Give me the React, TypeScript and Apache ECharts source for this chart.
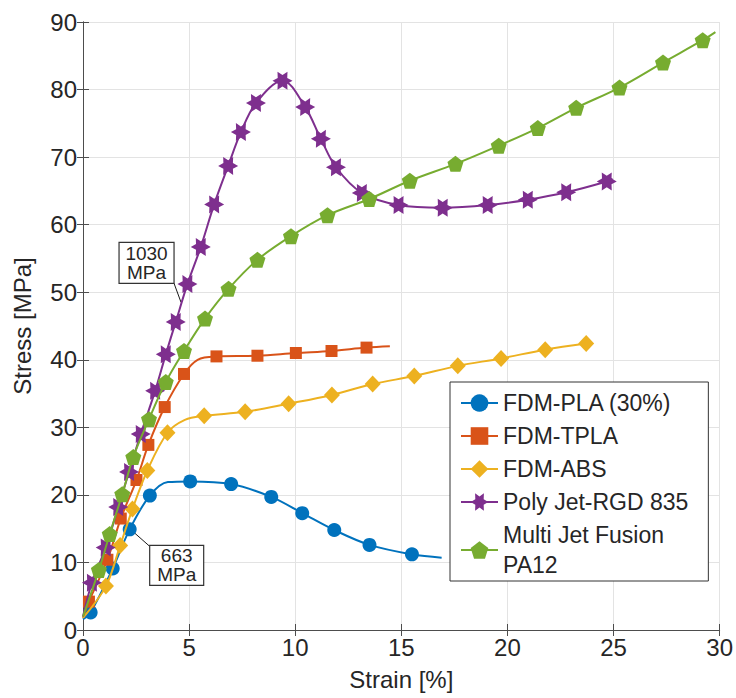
import React, { useEffect, useRef } from "react";
import * as echarts from "echarts";

// ---- Data ----
const xTicks = [0, 5, 10, 15, 20, 25, 30];
const yTicks = [0, 10, 20, 30, 40, 50, 60, 70, 80, 90];

const seriesNames = [
  "FDM-PLA (30%)",
  "FDM-TPLA",
  "FDM-ABS",
  "Poly Jet-RGD 835",
  "Multi Jet Fusion\nPA12",
];

// FDM-PLA (30%)
const plaMarkX = [0.36, 1.4, 2.2, 3.15, 5.05, 6.98, 8.87, 10.33, 11.84, 13.5, 15.5];
const plaMarkY = [2.6, 9.1, 14.9, 19.9, 22.0, 21.6, 19.7, 17.3, 14.8, 12.6, 11.2];
const plaCurveX = [0, 4.0, 16.9];
const plaCurveY = [1.6, 21.9, 10.7];

// FDM-TPLA
const tplaMarkX = [0.28, 1.15, 1.78, 2.52, 3.08, 3.85, 4.76, 6.29, 8.22, 10.03, 11.71, 13.36];
const tplaMarkY = [4.2, 10.4, 16.5, 22.2, 27.4, 33.0, 37.9, 40.5, 40.6, 41.0, 41.3, 41.8];
const tplaCurveX = [0, 5.4, 14.46];
const tplaCurveY = [1.8, 40.0, 42.0];

// FDM-ABS
const absMarkX = [1.08, 1.75, 2.33, 3.03, 3.98, 5.71, 7.64, 9.69, 11.73, 13.65, 15.61, 17.66, 19.7, 21.78, 23.71];
const absMarkY = [6.5, 12.5, 17.9, 23.6, 29.2, 31.7, 32.3, 33.5, 34.8, 36.4, 37.6, 39.1, 40.2, 41.5, 42.4];
const absCurveX = [0, 4.8];
const absCurveY = [1.8, 31.1];

// Poly Jet-RGD 835
const pjMarkX = [0.42, 1.07, 1.66, 2.17, 2.72, 3.4, 3.9, 4.37, 4.92, 5.55, 6.18, 6.84, 7.44, 8.15, 9.4, 10.47, 11.21, 11.92, 13.14, 14.87, 16.95, 19.07, 20.96, 22.77, 24.68];
const pjMarkY = [7.0, 12.2, 18.2, 23.4, 29.0, 35.4, 40.8, 45.6, 51.2, 56.7, 63.0, 68.7, 73.7, 78.0, 81.3, 77.4, 72.7, 68.5, 64.7, 62.9, 62.5, 62.9, 63.7, 64.8, 66.4];
const pjCurveX = [0, 24.95];
const pjCurveY = [2.0, 66.8];

// Multi Jet Fusion PA12
const mjfMarkX = [0.75, 1.26, 1.85, 2.37, 3.11, 3.9, 4.76, 5.75, 6.86, 8.22, 9.8, 11.52, 13.49, 15.4, 17.55, 19.59, 21.43, 23.24, 25.28, 27.33, 29.2];
const mjfMarkY = [8.9, 14.2, 20.1, 25.6, 31.2, 36.7, 41.3, 46.1, 50.5, 54.8, 58.3, 61.4, 63.8, 66.5, 69.0, 71.7, 74.3, 77.3, 80.3, 84.0, 87.3];
const mjfCurveX = [0, 29.8];
const mjfCurveY = [2.0, 88.5];

// Annotations (modulus labels)
const annotTexts = ["1030\nMPa", "663\nMPa"];
const annotAnchorX = [4.62, 2.2];
const annotAnchorY = [48.5, 14.9];

const colors = ["#0072BD", "#D95319", "#EDB120", "#7E2F8E", "#77AC30"];

function starPath(): string {
  const pts: string[] = [];
  for (let k = 0; k < 12; k++) {
    const a = (k * Math.PI) / 6;
    const r = k % 2 === 0 ? 1 : 0.55;
    pts.push((r * Math.cos(a)).toFixed(3) + "," + (-r * Math.sin(a)).toFixed(3));
  }
  return "path://M" + pts.join("L") + "Z";
}
const pentagonPath = "path://M0,-1L0.951,-0.309L0.588,0.809L-0.588,0.809L-0.951,-0.309Z";

function buildData(mx: number[], my: number[], cx: number[], cy: number[]) {
  const pts: any[] = mx.map((x, i) => ({ value: [x, my[i]] }));
  cx.forEach((x, i) => pts.push({ value: [x, cy[i]], symbol: "none" }));
  pts.sort((a, b) => a.value[0] - b.value[0]);
  return pts;
}

const FONT = "'Liberation Sans', Arial, Helvetica, sans-serif";
const TXT = "#262626";

export default function App() {
  const ref = useRef<HTMLDivElement>(null);
  useEffect(() => {
    if (!ref.current) return;
    const chart = echarts.init(ref.current, undefined, { renderer: "svg" });
    const defs = [
      { d: buildData(plaMarkX, plaMarkY, plaCurveX, plaCurveY), symbol: "circle", size: 14 },
      { d: buildData(tplaMarkX, tplaMarkY, tplaCurveX, tplaCurveY), symbol: "rect", size: 12 },
      { d: buildData(absMarkX, absMarkY, absCurveX, absCurveY), symbol: "diamond", size: [16, 17] },
      { d: buildData(pjMarkX, pjMarkY, pjCurveX, pjCurveY), symbol: starPath(), size: [20, 18] },
      { d: buildData(mjfMarkX, mjfMarkY, mjfCurveX, mjfCurveY), symbol: pentagonPath, size: 16 },
    ];
    const series = defs.map((s, i) => ({
      name: seriesNames[i],
      type: "line",
      xAxisIndex: 0,
      yAxisIndex: 0,
      data: s.d,
      smooth: 0.35,
      symbol: s.symbol,
      symbolSize: s.size,
      showSymbol: true,
      lineStyle: { color: colors[i], width: 2 },
      itemStyle: { color: colors[i], borderWidth: 0 },
      z: 2 + i,
    }));
    const axisCommon = {
      type: "value",
      axisLine: { show: true, lineStyle: { color: "#4d4d4d", width: 1 } },
      axisTick: { show: true, inside: true, length: 6, lineStyle: { color: "#4d4d4d" } },
    };
    chart.setOption({
      animation: false,
      color: colors,
      grid: { left: 83, top: 22, right: 16, bottom: 68, containLabel: false },
      xAxis: [
        {
          ...axisCommon,
          min: 0,
          max: 30,
          interval: 5,
          name: "Strain [%]",
          nameLocation: "middle",
          nameGap: 37,
          nameTextStyle: { fontSize: 24, color: TXT, fontFamily: FONT },
          axisLabel: { fontSize: 24, color: TXT, fontFamily: FONT, margin: 5,
            formatter: (v: number) => (xTicks.includes(v) ? String(v) : "") },
          splitLine: { show: true, lineStyle: { color: "#e3e3e3", width: 1 } },
        },
        {
          ...axisCommon,
          position: "top",
          min: 0,
          max: 30,
          interval: 5,
          axisLabel: { show: false },
          splitLine: { show: false },
        },
      ],
      yAxis: [
        {
          ...axisCommon,
          min: 0,
          max: 90,
          interval: 10,
          name: "Stress [MPa]",
          nameLocation: "middle",
          nameGap: 49,
          nameTextStyle: { fontSize: 24, color: TXT, fontFamily: FONT },
          axisLabel: { fontSize: 24, color: TXT, fontFamily: FONT, margin: 6,
            formatter: (v: number) => (yTicks.includes(v) ? String(v) : "") },
          splitLine: { show: true, lineStyle: { color: "#e3e3e3", width: 1 } },
        },
        {
          ...axisCommon,
          position: "right",
          min: 0,
          max: 90,
          interval: 10,
          axisLabel: { show: false },
          splitLine: { show: false },
        },
      ],
      legend: {
        orient: "vertical",
        left: 450,
        top: 382,
        padding: [6, 20, 1, 10],
        itemGap: 3,
        itemWidth: 37,
        itemHeight: 22,
        backgroundColor: "#ffffff",
        borderColor: "#333333",
        borderWidth: 1,
        textStyle: { fontSize: 23, color: TXT, fontFamily: FONT, lineHeight: 30 },
        data: seriesNames,
      },
      series,
    });

    const p1 = chart.convertToPixel({ xAxisIndex: 0, yAxisIndex: 0 }, [annotAnchorX[0], annotAnchorY[0]]);
    const p2 = chart.convertToPixel({ xAxisIndex: 0, yAxisIndex: 0 }, [annotAnchorX[1], annotAnchorY[1]]);
    const boxText = (cx: number, cy: number, text: string) => ({
      type: "text",
      x: cx,
      y: cy,
      style: {
        text,
        fontSize: 19,
        fontFamily: FONT,
        fill: TXT,
        align: "center",
        verticalAlign: "middle",
        lineHeight: 19,
      },
    });
    chart.setOption({
      graphic: [
        {
          type: "group",
          x: p1[0],
          y: p1[1],
          z: 100,
          children: [
            { type: "line", shape: { x1: 0, y1: 0, x2: -7, y2: -19 }, style: { stroke: "#1a1a1a", lineWidth: 1 } },
            { type: "rect", shape: { x: -62, y: -60, width: 55, height: 41 }, style: { fill: "#fff", stroke: "#333", lineWidth: 1.2 } },
            boxText(-34.5, -39.5, annotTexts[0]),
          ],
        },
        {
          type: "group",
          x: p2[0],
          y: p2[1],
          z: 100,
          children: [
            { type: "line", shape: { x1: 3, y1: 2, x2: 20, y2: 17 }, style: { stroke: "#1a1a1a", lineWidth: 1 } },
            { type: "rect", shape: { x: 20, y: 16, width: 54, height: 40 }, style: { fill: "#fff", stroke: "#333", lineWidth: 1.2 } },
            boxText(47, 36, annotTexts[1]),
          ],
        },
      ],
    });
    return () => chart.dispose();
  }, []);
  return (
    <div
      ref={ref}
      style={{ position: "absolute", left: 0, top: 0, width: 736, height: 698, background: "#fff" }}
    />
  );
}
